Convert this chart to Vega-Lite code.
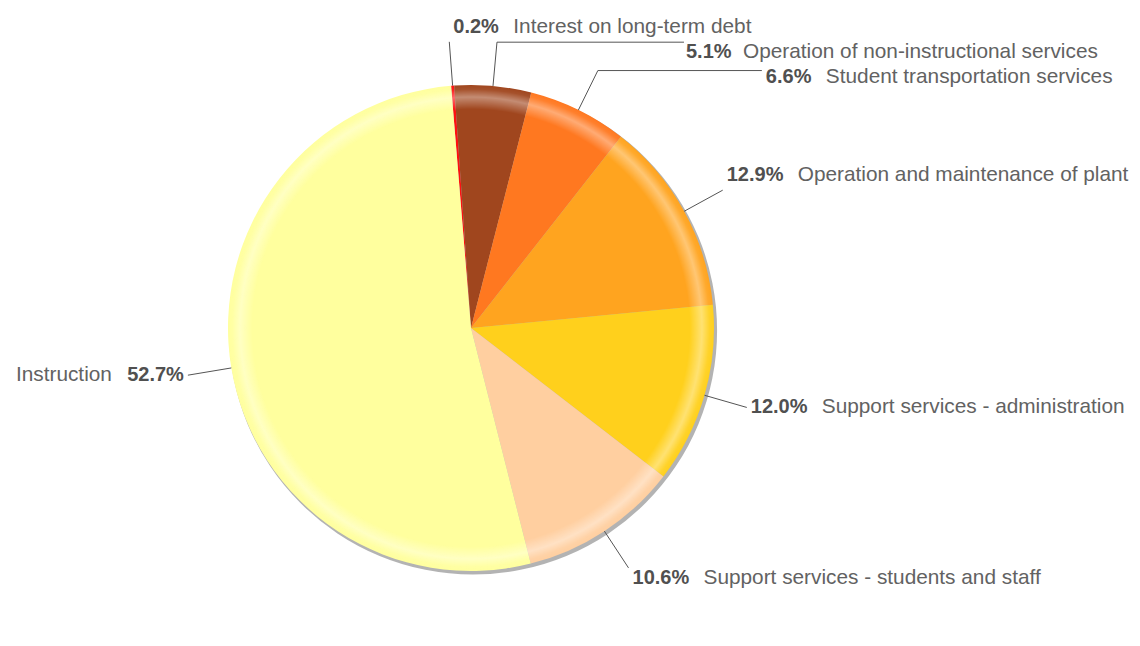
{
  "$schema": "https://vega.github.io/schema/vega-lite/v6.json",
  "width": 942,
  "height": 626,
  "autosize": {"type": "none"},
  "padding": {"left": 0, "top": 15, "right": 198, "bottom": 0},
  "background": "white",
  "config": {"view": {"stroke": null}},
  "data": {
    "values": [
      {"name": "Interest on long-term debt", "share": 0.002, "order": 1},
      {"name": "Operation of non-instructional services", "share": 0.051, "order": 2},
      {"name": "Student transportation services", "share": 0.066, "order": 3},
      {"name": "Operation and maintenance of plant", "share": 0.129, "order": 4},
      {"name": "Support services - administration", "share": 0.120, "order": 5},
      {"name": "Support services - students and staff", "share": 0.106, "order": 6},
      {"name": "Instruction", "share": 0.527, "order": 7}
    ]
  },
  "layer": [
    {
      "data": {"values": [{}]},
      "mark": {"type": "arc", "radius": 244, "color": "#a6a6a6", "opacity": 0.85, "xOffset": 2, "yOffset": 2.5},
      "encoding": {}
    },
    {
      "mark": {"type": "arc", "radius": 243},
      "encoding": {
        "theta": {"field": "share", "type": "quantitative", "stack": true, "scale": {"range": [-0.082, 6.2012]}},
        "color": {
          "field": "name",
          "type": "nominal",
          "scale": {
            "domain": ["Interest on long-term debt", "Operation of non-instructional services", "Student transportation services", "Operation and maintenance of plant", "Support services - administration", "Support services - students and staff", "Instruction"],
            "range": ["#ff1010", "#a0461e", "#ff7820", "#ffa41f", "#ffd01c", "#ffcfa0", "#ffff9e"]
          },
          "legend": null
        },
        "order": {"field": "order", "type": "quantitative"}
      }
    },
    {
      "data": {"values": [{}]},
      "mark": {
        "type": "arc",
        "radius": 243,
        "color": {
          "gradient": "radial",
          "x1": 0.5, "y1": 0.5, "r1": 0,
          "x2": 0.5, "y2": 0.5, "r2": 0.5,
          "stops": [
            {"offset": 0, "color": "rgba(255,255,255,0)"},
            {"offset": 0.9, "color": "rgba(255,255,255,0)"},
            {"offset": 0.95, "color": "rgba(255,255,255,0.38)"},
            {"offset": 0.982, "color": "rgba(255,255,255,0.06)"},
            {"offset": 1, "color": "rgba(255,255,255,0)"}
          ]
        }
      },
      "encoding": {}
    },
    {
      "transform": [{"stack": "share", "groupby": [], "sort": [{"field": "order", "order": "ascending"}], "as": ["v0", "v1"]}],
      "mark": {"type": "rule", "color": "#555555", "strokeWidth": 1},
      "encoding": {
        "x": {"value": {"expr": "width/2 + 243*sin(scale('theta',(datum.v0+datum.v1)/2))"}},
        "y": {"value": {"expr": "height/2 - 243*cos(scale('theta',(datum.v0+datum.v1)/2))"}},
        "x2": {"value": {"expr": "width/2 + 287*sin(scale('theta',(datum.v0+datum.v1)/2))"}},
        "y2": {"value": {"expr": "height/2 - 287*cos(scale('theta',(datum.v0+datum.v1)/2))"}}
      }
    },
    {
      "transform": [
        {"stack": "share", "groupby": [], "sort": [{"field": "order", "order": "ascending"}], "as": ["v0", "v1"]},
        {"filter": "datum.order == 2 || datum.order == 3"}
      ],
      "mark": {"type": "rule", "color": "#555555", "strokeWidth": 1},
      "encoding": {
        "x": {"value": {"expr": "width/2 + 287*sin(scale('theta',(datum.v0+datum.v1)/2))"}},
        "y": {"value": {"expr": "height/2 - 287*cos(scale('theta',(datum.v0+datum.v1)/2))"}},
        "x2": {"value": {"expr": "width/2 + 287*sin(scale('theta',(datum.v0+datum.v1)/2)) + (datum.order == 2 ? 187 : 164)"}}
      }
    },
    {
      "transform": [{"stack": "share", "groupby": [], "sort": [{"field": "order", "order": "ascending"}], "as": ["v0", "v1"]}],
      "mark": {
        "type": "text",
        "font": "Liberation Sans",
        "fontSize": 20,
        "fontWeight": "bold",
        "color": "#505050",
        "baseline": "middle",
        "radius": 287,
        "theta": {"expr": "scale('theta',(datum.v0+datum.v1)/2)"},
        "align": {"expr": "sin(scale('theta',(datum.v0+datum.v1)/2)) < -0.5 ? 'right' : 'left'"},
        "dx": {"expr": "(sin(scale('theta',(datum.v0+datum.v1)/2)) < -0.5 ? -4 : 4) + (datum.order == 2 ? 185 : datum.order == 3 ? 164 : 0)"},
        "dy": {"expr": "datum.order == 2 ? 10 : datum.order == 3 ? 6 : cos(scale('theta',(datum.v0+datum.v1)/2)) > 0.35 ? -15 : cos(scale('theta',(datum.v0+datum.v1)/2)) < -0.35 ? 10 : 0"}
      },
      "encoding": {
        "text": {"field": "share", "type": "quantitative", "format": ".1%"}
      }
    },
    {
      "transform": [{"stack": "share", "groupby": [], "sort": [{"field": "order", "order": "ascending"}], "as": ["v0", "v1"]}],
      "mark": {
        "type": "text",
        "font": "Liberation Sans",
        "fontSize": 20.8,
        "color": "#626262",
        "baseline": "middle",
        "radius": 287,
        "theta": {"expr": "scale('theta',(datum.v0+datum.v1)/2)"},
        "align": {"expr": "sin(scale('theta',(datum.v0+datum.v1)/2)) < -0.5 ? 'right' : 'left'"},
        "dx": {"expr": "(sin(scale('theta',(datum.v0+datum.v1)/2)) < -0.5 ? -76 : 4 + (datum.share >= 0.1 ? 56 : 45) + 15) + (datum.order == 2 ? 182 : datum.order == 3 ? 164 : 0)"},
        "dy": {"expr": "datum.order == 2 ? 10 : datum.order == 3 ? 6 : cos(scale('theta',(datum.v0+datum.v1)/2)) > 0.35 ? -15 : cos(scale('theta',(datum.v0+datum.v1)/2)) < -0.35 ? 10 : 0"}
      },
      "encoding": {
        "text": {"field": "name", "type": "nominal"}
      }
    }
  ]
}
